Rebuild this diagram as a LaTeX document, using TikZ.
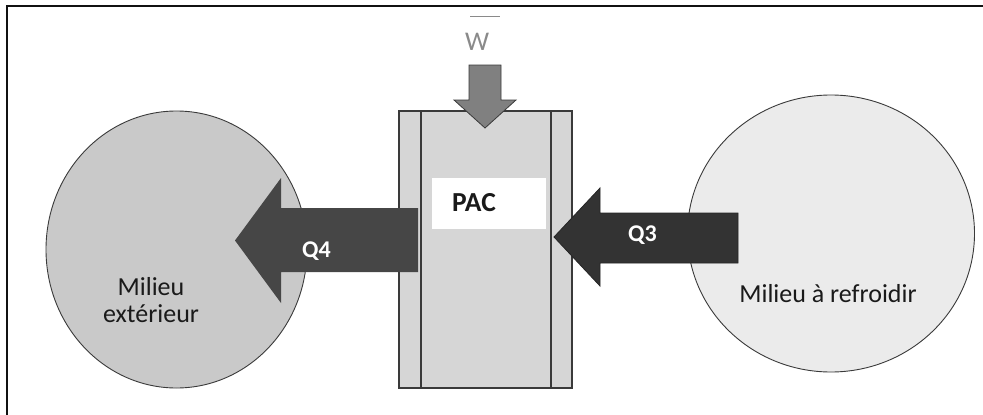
\documentclass[tikz,border=0pt]{standalone}
\usepackage{fontspec}
\setmainfont{Carlito}
\usetikzlibrary{shapes.geometric}
\definecolor{frameblk}{HTML}{111111}
\definecolor{outgray}{HTML}{C9C9C9}
\definecolor{coldgray}{HTML}{EBEBEB}
\definecolor{pacgray}{HTML}{D6D6D6}
\definecolor{edgegray}{HTML}{3A3A3A}
\definecolor{qfourfill}{HTML}{464646}
\definecolor{qthreefill}{HTML}{333333}
\definecolor{wfill}{HTML}{808080}
\definecolor{wtext}{HTML}{8A8A8A}
\definecolor{inktext}{HTML}{1A1A1A}
\tikzset{
  medium/.style={ellipse, draw=edgegray, line width=0.9pt, inner sep=0pt},
  biglabel/.style={font=\fontsize{26}{27}\selectfont, text=inktext, inner sep=0pt},
  qlabel/.style={font=\fontsize{24}{28}\selectfont\bfseries, text=white, inner sep=0pt, anchor=base west},
  blockarrow/.style={line width=0.8pt, line join=miter}
}
\begin{document}
\begin{tikzpicture}[x=1pt,y=-1pt]
\useasboundingbox (0,0) rectangle (983,415);

% frame edges
\draw[frameblk, line width=2pt] (7,415) -- (7,6) -- (983,6);

% the two surroundings
\node[medium, fill=outgray, minimum width=261pt, minimum height=277pt] (ext) at (176.5,249.5) {};
\node[medium, fill=coldgray, minimum width=287pt, minimum height=277pt] (cold) at (831,233.5) {};

% heat pump body
\node[draw=edgegray, fill=pacgray, line width=1.2pt, minimum width=173pt, minimum height=277pt, inner sep=0pt] (pac) at (485.5,249.5) {};
\draw[edgegray, line width=1.2pt] (421,111) -- (421,388) (551,111) -- (551,388);
\fill[white] (432,178) rectangle (546,229);
\node[font=\fontsize{27.5}{30}\selectfont\bfseries, text=inktext, inner sep=0pt, anchor=base west] (paclbl) at (452,211) {PAC};

% work input
\draw[blockarrow, draw=edgegray, fill=wfill] (469,65) -- (501,65) -- (501,100) -- (516,100) -- (485,128) -- (454,100) -- (469,100) -- cycle;
\node[font=\fontsize{27}{30}\selectfont, text=wtext, inner sep=0pt, anchor=base west] (w) at (465,50) {W};
\draw[wtext, line width=1pt] ([shift={(5,-34)}]w.base west) -- ++(30,0);

% heat released to the outside
\fill[qfourfill] (418,208) -- (281,208) -- (281,178) -- (235,240.5) -- (281,303) -- (281,272) -- (418,272) -- cycle;
\node[qlabel] (q4) at (302,257) {Q4};

% heat taken from the cooled medium
\draw[blockarrow, draw=black!85, fill=qthreefill] (738,213) -- (600,213) -- (600,188) -- (554,237) -- (600,286) -- (600,263) -- (738,263) -- cycle;
\node[qlabel] (q3) at (628,241) {Q3};

% medium names
\node[biglabel, align=center, anchor=base] (extlbl) at (151,322) {Milieu\\extérieur};
\node[biglabel, anchor=base] (coldlbl) at (828,302) {Milieu à refroidir};
\end{tikzpicture}
\end{document}
